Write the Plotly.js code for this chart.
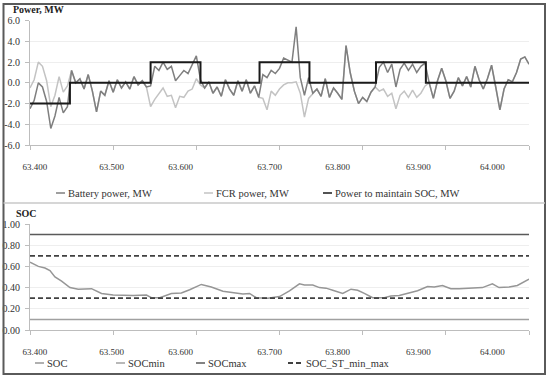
<!DOCTYPE html>
<html><head><meta charset="utf-8">
<script src="https://cdn.plot.ly/plotly-3.0.1.min.js"></script>
<style>html,body{margin:0;padding:0;background:#fff;}#chart{width:550px;height:380px;}</style>
</head><body><div id="chart"></div>
<script>
// ---------- data ----------
const powerTime = [63400,63405,63410,63415,63420,63425,63430,63435,63440,63445,
  63450,63455,63460,63465,63470,63475,63480,63485,63490,63495,
  63500,63505,63510,63515,63520,63525,63530,63535,63540,63545,
  63550,63555,63560,63565,63570,63575,63580,63585,63590,63595,
  63600,63605,63610,63615,63620,63625,63630,63635,63640,63645,
  63650,63655,63660,63665,63670,63675,63680,63685,63690,63695,
  63700,63705,63710,63715,63720,63725,63730,63735,63740,63745,
  63750,63755,63760,63765,63770,63775,63780,63785,63790,63795,
  63800,63805,63810,63815,63820,63825,63830,63835,63840,63845,
  63850,63855,63860,63865,63870,63875,63880,63885,63890,63895,
  63900,63905,63910,63915,63920,63925,63930,63935,63940,63945,
  63950,63955,63960,63965,63970,63975,63980,63985,63990,63995,64000];
const fcrPower = [-0.5,0.3,2.0,1.6,0.2,-2.3,-1.2,0.6,-0.9,-0.3,
  1.2,0.0,0.4,-0.6,0.8,-0.8,-2.8,-0.8,-1.2,0.2,
  -0.9,0.3,-0.5,0.1,-0.6,0.6,-0.2,0.2,-0.4,-2.3,
  -1.6,-1.0,-0.5,-1.3,-1.2,-2.4,-1.3,-1.4,-0.8,-0.6,
  0.4,-0.2,-0.5,0.1,-1.0,-0.4,-1.3,0.3,-0.6,-1.2,
  0.2,-0.8,0.3,-1.0,-0.3,-1.4,-1.5,-2.6,-0.8,-1.2,
  -0.6,-0.2,0.0,0.0,0.1,-1.0,-3.3,-1.5,-1.0,-0.6,
  -1.3,0.4,-1.4,-0.5,-1.0,-1.6,3.6,1.0,-0.8,-2.0,
  -1.4,-1.8,-0.9,-0.4,-0.8,-0.6,-1.3,-1.0,-2.5,-1.2,
  -0.8,-1.4,-0.7,-1.4,-1.0,-0.3,0.0,-1.5,0.2,1.4,
  0.2,-1.5,-0.8,0.5,-0.3,0.6,-0.4,1.6,0.3,-0.6,
  0.4,1.7,-0.4,-2.6,-0.6,0.3,0.1,1.0,2.3,2.5,1.8];
const batteryPower = [-2.5,-1.7,0.0,-0.4,-1.8,-4.4,-3.2,-1.4,-2.9,-2.3,
  1.2,0.0,0.4,-0.6,0.8,-0.8,-2.8,-0.8,-1.2,0.2,
  -0.9,0.3,-0.5,0.1,-0.6,0.6,-0.2,0.2,-0.4,-0.3,
  1.6,1.2,2.0,1.3,1.6,0.2,0.7,1.2,0.9,1.8,
  2.6,0.3,-0.5,0.1,-1.0,-0.4,-1.3,0.3,-0.6,-1.2,
  0.2,-0.8,0.3,-1.0,-0.3,-1.4,0.8,0.5,1.2,0.9,
  1.4,2.4,2.2,2.0,5.4,0.5,-1.2,0.5,-1.0,-0.6,
  -1.3,0.4,-1.4,-0.5,-1.0,-1.6,3.6,1.0,-0.8,-2.0,
  -1.4,-1.8,-0.9,-0.4,1.5,2.0,1.0,1.8,-0.4,1.3,
  1.9,1.2,1.8,1.0,1.6,1.9,0.0,-1.5,0.2,1.4,
  0.2,-1.5,-0.8,0.5,-0.3,0.6,-0.4,1.6,0.3,-0.6,
  0.4,1.7,-0.4,-2.6,-0.6,0.3,0.1,1.0,2.3,2.5,1.8];
const maintainTime = [63400,63448,63545,63605,63676,63736,63816,63876,64000];
const maintainPower = [-2,0,2,0,2,0,2,0,0];

const socTime = [63400,63405,63410,63418,63424,63430,63438,63448,63458,63474,
  63480,63486,63500,63524,63540,63546,63556,63570,63582,63592,
  63606,63618,63632,63644,63656,63664,63672,63686,63700,63712,
  63724,63730,63740,63748,63756,63764,63776,63786,63794,63802,
  63812,63826,63834,63844,63856,63866,63878,63886,63896,63906,
  63916,63928,63944,63956,63964,63976,63986,64000];
const socValues = [0.64,0.62,0.60,0.585,0.56,0.50,0.46,0.40,0.385,0.39,
  0.37,0.345,0.33,0.325,0.33,0.305,0.305,0.345,0.35,0.38,
  0.43,0.405,0.365,0.355,0.34,0.345,0.305,0.30,0.315,0.37,
  0.435,0.425,0.425,0.40,0.395,0.375,0.345,0.385,0.375,0.345,
  0.305,0.305,0.32,0.325,0.35,0.37,0.41,0.405,0.42,0.39,
  0.39,0.395,0.40,0.435,0.40,0.405,0.42,0.48];
const socMinValue = 0.1;
const socMaxValue = 0.9;
const socStMin = 0.3;
const socStMax = 0.7;
const timeRange = [63400, 64000];

const xTickLabels = ['63.400','63.500','63.600','63.700','63.800','63.900','64.000'];
const powerTickVals = [-6,-4,-2,0,2,4,6];
const powerTickText = ['-6.0','-4.0','-2.0','0.0','2.0','4.0','6.0'];
const socTickVals = [0,0.2,0.4,0.6,0.8,1.0];
const socTickText = ['0.00','0.20','0.40','0.60','0.80','1.00'];

// ---------- layout helpers ----------
const W = 550, H = 380;
const px = v => v / W;
const py = v => 1 - v / H;
const FONT = 'Liberation Serif, Times New Roman, serif';
const xLabelAt = [63406, 63498, 63581, 63688, 63770, 63867, 63956];

const traces = [
  {x: powerTime, y: fcrPower, name: 'FCR power, MW', mode: 'lines', xaxis: 'x', yaxis: 'y',
   line: {color: '#c3c3c3', width: 1.5}},
  {x: powerTime, y: batteryPower, name: 'Battery power, MW', mode: 'lines', xaxis: 'x', yaxis: 'y',
   line: {color: '#7f7f7f', width: 1.5}},
  {x: maintainTime, y: maintainPower, name: 'Power to maintain SOC, MW', mode: 'lines', xaxis: 'x', yaxis: 'y',
   line: {color: '#1a1a1a', width: 2, shape: 'hv'}},
  {x: socTime, y: socValues, name: 'SOC', mode: 'lines', xaxis: 'x2', yaxis: 'y2',
   line: {color: '#969696', width: 1.5}},
  {x: timeRange, y: [socMinValue, socMinValue], name: 'SOCmin', mode: 'lines', xaxis: 'x2', yaxis: 'y2',
   line: {color: '#a0a0a0', width: 1.5}},
  {x: timeRange, y: [socMaxValue, socMaxValue], name: 'SOCmax', mode: 'lines', xaxis: 'x2', yaxis: 'y2',
   line: {color: '#5a5a5a', width: 1.5}},
  {x: [timeRange[0], timeRange[1], null, timeRange[0], timeRange[1]],
   y: [socStMax, socStMax, null, socStMin, socStMin], name: 'SOC_ST_min_max', mode: 'lines',
   xaxis: 'x2', yaxis: 'y2', connectgaps: false,
   line: {color: '#404040', width: 1.8, dash: '5px,3px'}}
];
traces.forEach(t => t.showlegend = false);

// legend entries (trace index, text start x px, centre y px)
const legendSpec = [
  [1, 67, 193], [0, 215, 193], [2, 334, 193],
  [3, 46, 363], [4, 127, 363], [5, 207, 363], [6, 305, 363]
];

function xAxis(anchor) {
  return {
    domain: [px(30), px(529)], range: timeRange, anchor: anchor,
    tickmode: 'array', tickvals: xLabelAt, ticktext: xTickLabels,
    ticks: 'outside', ticklen: 13, tickcolor: 'rgba(0,0,0,0)',
    minor: {tickmode: 'linear', tick0: 63400, dtick: 100, ticks: 'outside', ticklen: 4,
            tickcolor: '#bdbdbd', tickwidth: 1, showgrid: false},
    showline: true, linecolor: '#bdbdbd', linewidth: 1,
    showgrid: false, zeroline: false,
    tickfont: {family: FONT, size: 9, color: '#333'}
  };
}
function yAxis(domain, range, vals, text) {
  return {
    domain: domain, range: range, tickmode: 'array', tickvals: vals, ticktext: text,
    ticks: 'outside', ticklen: 4, tickcolor: '#bdbdbd', ticklabelstandoff: 3,
    showline: true, linecolor: '#bdbdbd', linewidth: 1,
    showgrid: true, gridcolor: '#eeeeee', gridwidth: 1, zeroline: false,
    tickfont: {family: FONT, size: 10, color: '#333'}
  };
}

const shapes = [
  {type: 'rect', xref: 'paper', yref: 'paper', x0: px(3.5), x1: px(545), y0: py(374), y1: py(4),
   line: {color: '#5a5a5a', width: 2}, fillcolor: 'rgba(0,0,0,0)', layer: 'above'},
  {type: 'line', xref: 'paper', yref: 'paper', x0: px(3.5), x1: px(545), y0: py(203), y1: py(203),
   line: {color: '#c8c8c8', width: 1.5}}
];
const annotations = [
  {text: 'Power, MW', xref: 'paper', yref: 'paper', x: px(11), y: py(10), xanchor: 'left', yanchor: 'middle',
   showarrow: false, font: {family: FONT, size: 10, weight: 'bold', color: '#222'}},
  {text: 'SOC', xref: 'paper', yref: 'paper', x: px(14), y: py(213), xanchor: 'left', yanchor: 'middle',
   showarrow: false, font: {family: FONT, size: 10, weight: 'bold', color: '#222'}}
];
legendSpec.forEach(([i, tx, cy]) => {
  const tr = traces[i];
  const dashed = !!tr.line.dash;
  shapes.push({type: 'line', xref: 'paper', yref: 'paper',
    x0: px(tx - (dashed ? 17 : 11)), x1: px(tx - 2), y0: py(cy), y1: py(cy),
    line: {color: tr.line.color, width: dashed ? 1.8 : 1.5, dash: dashed ? '5px,3px' : 'solid'}});
  annotations.push({text: tr.name, xref: 'paper', yref: 'paper', x: px(tx - 1), y: py(cy),
    xanchor: 'left', yanchor: 'middle', showarrow: false,
    font: {family: FONT, size: 10.5, color: '#333'}});
});

const layout = {
  width: W, height: H, margin: {l: 0, r: 0, t: 0, b: 0},
  paper_bgcolor: '#fff', plot_bgcolor: '#fff',
  font: {family: FONT, color: '#333'},
  xaxis: xAxis('y'),
  yaxis: yAxis([py(145), py(20.7)], [-6, 6], powerTickVals, powerTickText),
  xaxis2: xAxis('y2'),
  yaxis2: yAxis([py(330), py(224)], [0, 1], socTickVals, socTickText),
  annotations: annotations,
  shapes: shapes,
  showlegend: false
};

Plotly.newPlot('chart', traces, layout, {staticPlot: true, displayModeBar: false});
</script>
</body></html>
